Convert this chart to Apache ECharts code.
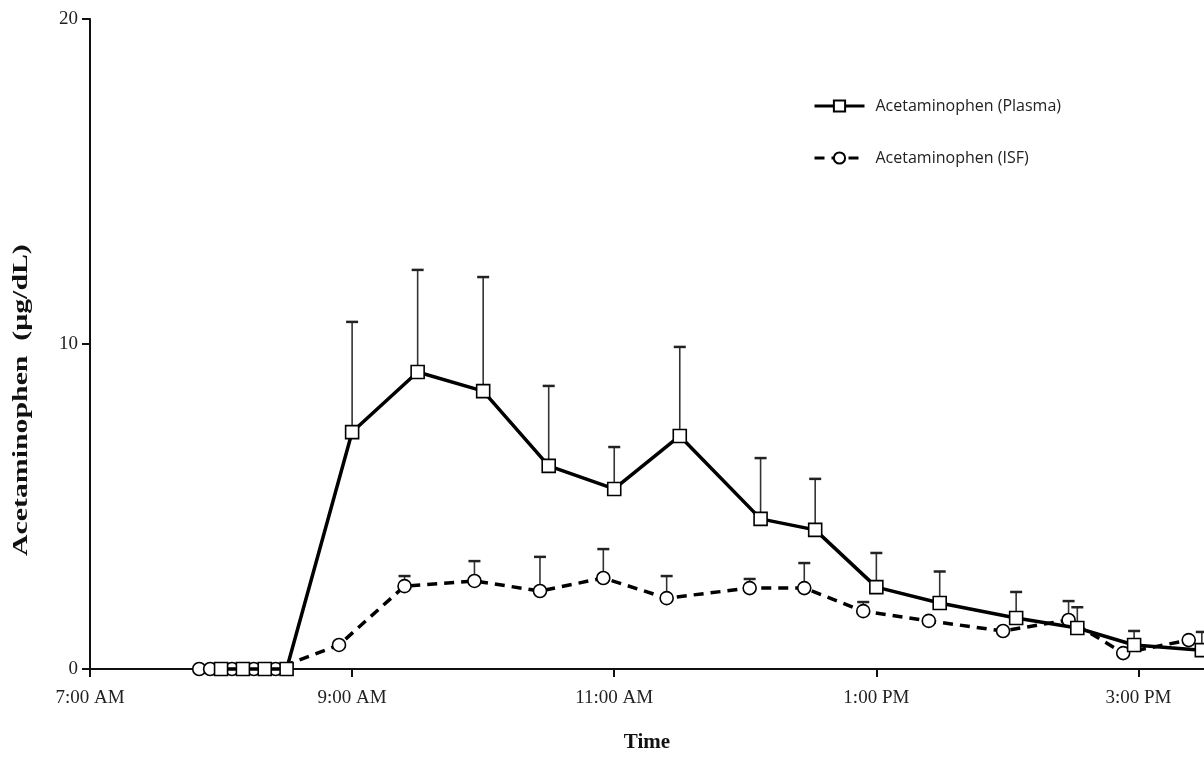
<!DOCTYPE html>
<html>
<head>
<meta charset="utf-8">
<script src="https://cdn.jsdelivr.net/npm/echarts@6/dist/echarts.min.js"></script>
<style>
html,body{margin:0;padding:0;background:#fff;}
#chart{width:1204px;height:759px;}
</style>
</head>
<body>
<div id="chart"></div>
<script>
// Times are clock times (24h); x axis is minutes after 7:00 AM
const plasmaTimes = ["8:00","8:10","8:20","8:30","9:00","9:30","10:00","10:30","11:00","11:30","12:07","12:32","13:00","13:29","14:04","14:32","14:58","15:29"];
const plasmaMean  = [0, 0, 0, 0, 7.29, 9.14, 8.55, 6.25, 5.54, 7.17, 4.62, 4.28, 2.52, 2.03, 1.57, 1.26, 0.74, 0.58];
const plasmaUpper = [null, null, null, null, 10.68, 12.28, 12.06, 8.71, 6.83, 9.91, 6.49, 5.85, 3.57, 3.0, 2.37, 1.9, 1.17, 1.14];

const isfTimes = ["7:50","7:55","8:05","8:15","8:25","8:54","9:24","9:56","10:26","10:55","11:24","12:02","12:27","12:54","13:24","13:58","14:28","14:53","15:23"];
const isfMean  = [0, 0, 0, 0, 0, 0.74, 2.55, 2.71, 2.4, 2.8, 2.18, 2.49, 2.49, 1.78, 1.48, 1.17, 1.51, 0.49, 0.89];
const isfUpper = [null, null, null, null, null, null, 2.86, 3.32, 3.45, 3.69, 2.86, 2.77, 3.26, 2.06, null, null, 2.09, null, null];

const xTickLabels = {0: "7:00 AM", 120: "9:00 AM", 240: "11:00 AM", 360: "1:00 PM", 480: "3:00 PM"};
const yTickLabels = [0, 10, 20];

function toMin(t) { const p = t.split(":"); return (+p[0] - 7) * 60 + (+p[1]); }

const plasmaData = plasmaTimes.map((t, i) => [toMin(t), plasmaMean[i]]);
const isfData = isfTimes.map((t, i) => [toMin(t), isfMean[i]]);
const errData = [];
plasmaTimes.forEach((t, i) => { if (plasmaUpper[i] != null) errData.push([toMin(t), plasmaMean[i], plasmaUpper[i]]); });
isfTimes.forEach((t, i) => { if (isfUpper[i] != null) errData.push([toMin(t), isfMean[i], isfUpper[i]]); });

const chart = echarts.init(document.getElementById('chart'));
const serif = '"Liberation Serif", "Times New Roman", serif';
chart.setOption({
  animation: false,
  backgroundColor: '#fff',
  grid: {left: 90, right: 0, top: 19, bottom: 90, containLabel: false},
  legend: {
    orient: 'vertical', left: 808, top: 93, itemGap: 36,
    itemWidth: 50, itemHeight: 14,
    lineStyle: {width: 3},
    textStyle: {fontFamily: '"Open Sans", sans-serif', fontSize: 16, color: '#222', padding: [0, 0, 0, 6]},
    data: ['Acetaminophen (Plasma)', 'Acetaminophen (ISF)']
  },
  xAxis: {
    type: 'value', min: 0, max: 510, interval: 120,
    name: 'Time', nameLocation: 'middle', nameGap: 63,
    nameTextStyle: {fontFamily: serif, fontSize: 21, fontWeight: 'bold', color: '#111'},
    axisLine: {onZero: false, lineStyle: {color: '#111', width: 2}},
    axisTick: {show: true, length: 8, lineStyle: {color: '#111', width: 2}},
    axisLabel: {margin: 20, fontFamily: serif, fontSize: 19, color: '#222',
      formatter: v => xTickLabels[v] || '', showMaxLabel: false},
    splitLine: {show: false}
  },
  yAxis: {
    type: 'value', min: yTickLabels[0], max: yTickLabels[2], interval: 10,
    axisLine: {show: true, lineStyle: {color: '#111', width: 2}},
    axisTick: {show: true, length: 8, lineStyle: {color: '#111', width: 2}},
    axisLabel: {margin: 12, fontFamily: serif, fontSize: 19, color: '#222'},
    splitLine: {show: false}
  },
  graphic: [{
    type: 'text', x: 11, y: 556, rotation: Math.PI / 2, scaleX: 1.42,
    style: {text: 'Acetaminophen  (μg/dL)', font: 'bold 21px "Liberation Serif", "Times New Roman", serif', fill: '#111',
      textAlign: 'left', textVerticalAlign: 'top'}
  }],
  series: [
    {
      type: 'custom', name: 'err', z: 1, silent: true, clip: false,
      data: errData,
      renderItem: function (params, api) {
        const x = api.value(0);
        const p0 = api.coord([x, api.value(1)]);
        const p1 = api.coord([x, api.value(2)]);
        return {type: 'group', children: [
          {type: 'line', shape: {x1: p0[0], y1: p0[1], x2: p1[0], y2: p1[1]}, style: {stroke: '#333', lineWidth: 1.6}},
          {type: 'line', shape: {x1: p1[0] - 6, y1: p1[1], x2: p1[0] + 6, y2: p1[1]}, style: {stroke: '#222', lineWidth: 2.5}}
        ]};
      }
    },
    {
      type: 'line', name: 'Acetaminophen (ISF)', data: isfData, z: 3, clip: false,
      symbol: 'circle', symbolSize: 13, showAllSymbol: true,
      lineStyle: {color: '#000', width: 3.5, type: [10, 7]},
      itemStyle: {color: '#fff', borderColor: '#000', borderWidth: 1.6}
    },
    {
      type: 'line', name: 'Acetaminophen (Plasma)', data: plasmaData, z: 4, clip: false,
      symbol: 'rect', symbolSize: 13, showAllSymbol: true,
      lineStyle: {color: '#000', width: 3.5},
      itemStyle: {color: '#fff', borderColor: '#000', borderWidth: 1.6}
    }
  ]
});
</script>
</body>
</html>
